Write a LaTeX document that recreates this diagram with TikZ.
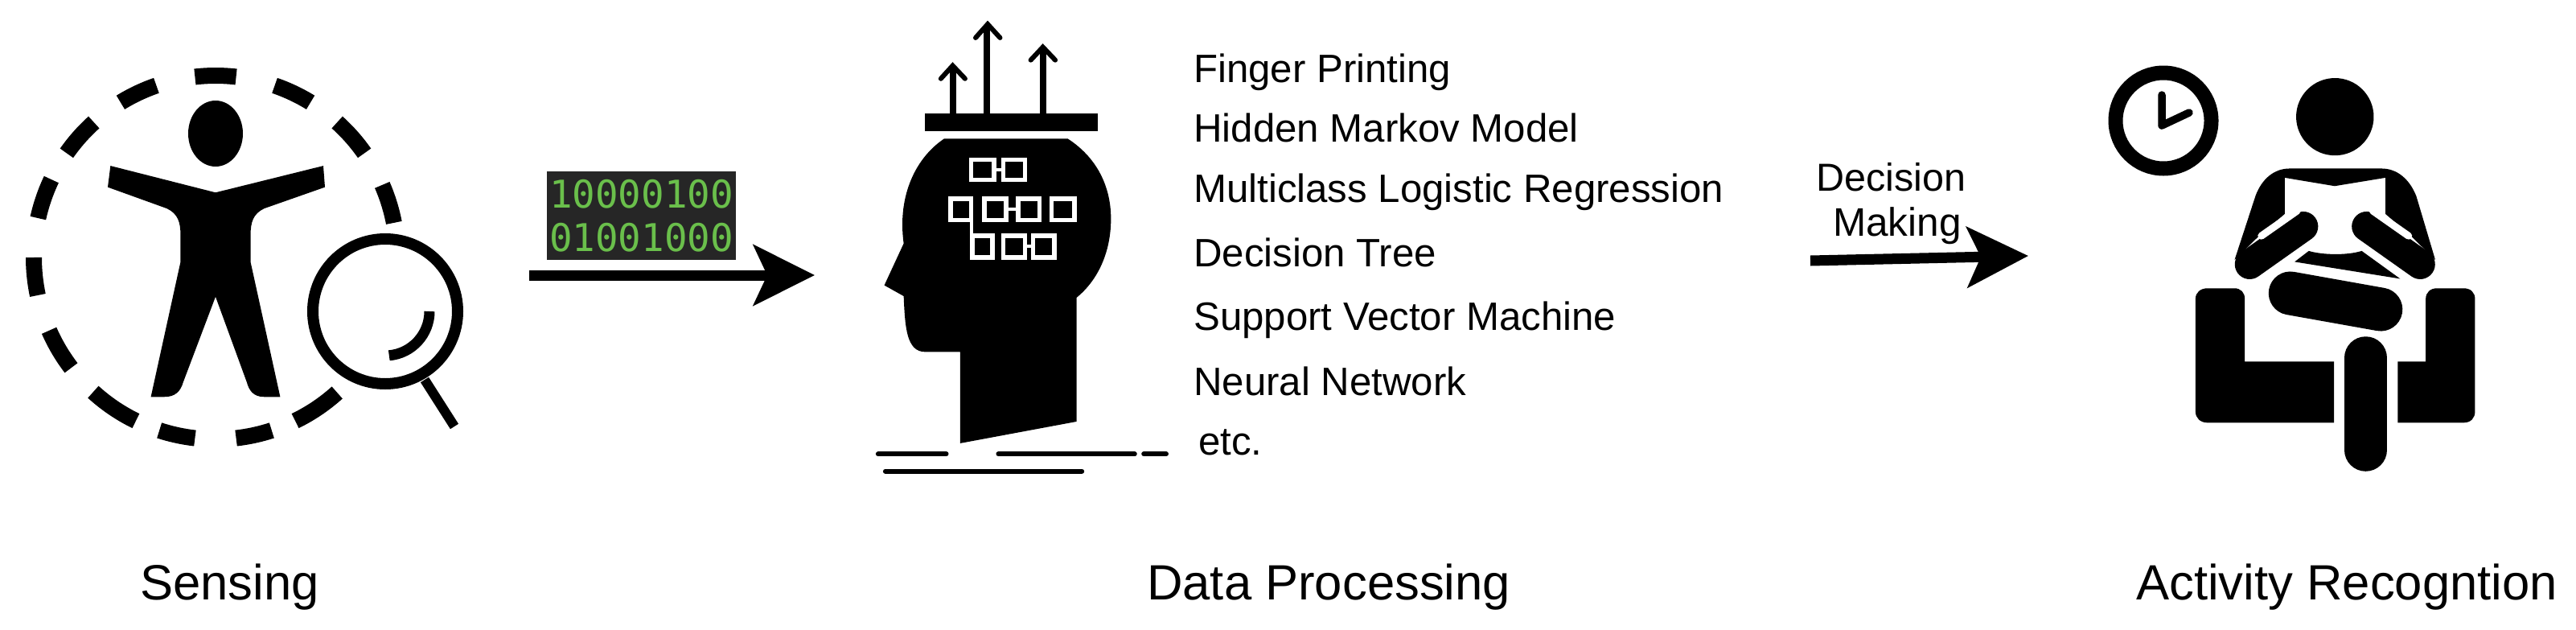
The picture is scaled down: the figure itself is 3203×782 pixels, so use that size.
\documentclass[tikz,border=0pt]{standalone}
\usepackage{fontspec}
\setmainfont{Liberation Sans}
\newfontfamily\binfont{DejaVu Sans Mono}
\usetikzlibrary{arrows.meta}
\definecolor{binbg}{HTML}{262626}
\definecolor{bingreen}{HTML}{6ABF4B}
\tikzset{
  item/.style={anchor=base west,inner sep=0pt,font=\fontsize{49.2}{58}\selectfont},
  caption/.style={anchor=base west,inner sep=0pt,font=\fontsize{61.6}{72}\selectfont},
  flow/.style={line width=13pt,-{Stealth[length=76pt,width=75pt,inset=17pt]}},
  ring/.style={line width=20pt},
  treebox/.style={draw=white,line width=5.5pt},
  treelink/.style={draw=white,line width=4pt},
  riser/.style={line width=8pt},
  chevron/.style={line width=6pt,line cap=round,line join=miter},
  floorline/.style={line width=6pt,line cap=round},
  limb/.style={line cap=round}
}
\begin{document}
\begin{tikzpicture}[x=1pt,y=-1pt]
\useasboundingbox (0,0) rectangle (3203,782);
\fill[white] (0,0) rectangle (3203,782);

% ---- Sensing icon ----
\begin{scope}[shift={(268pt,-320pt)},x=1pt,y=1pt]
  \foreach \a/\b in {83.5/96.5,58.5/71,109/121.5,35/48,132/145,11/23.5,154.6/167.5,180/192,203.7/217.4,227.7/244,252/263.5,276.5/288,296/312}
    \draw[ring] (\a:226) arc[start angle=\a,end angle=\b,radius=226];
\end{scope}
\begin{scope}[shift={(0pt,-60pt)},x=0.67pt,y=-0.332pt]
  \fill (205,440) -- (400,540) -- (600,440) -- (603,520) -- (490,600)
    .. controls (470,620) and (465,650) .. (465,700) -- (465,800)
    -- (520,1305) -- (490,1305) .. controls (470,1305) and (462,1280) .. (458,1250)
    -- (400,930) -- (340,1250) .. controls (335,1285) and (325,1305) .. (305,1305)
    -- (280,1305) -- (335,800) -- (335,700)
    .. controls (335,650) and (330,620) .. (310,600) -- (200,520) -- cycle;
\end{scope}
\fill (268,166) ellipse[x radius=34,y radius=41];
\draw[line width=14pt] (479,387) circle[radius=90];
\begin{scope}[shift={(479pt,-387pt)},x=1pt,y=1pt]
  \draw[line width=13pt] (0:55) arc[start angle=0,end angle=-85,radius=55];
\end{scope}
\draw[line width=12pt] (528,472) -- (565,530);

% ---- binary box and first arrow ----
\node (bin) at (797.5,268) [fill=binbg,text=bingreen,minimum width=235pt,minimum height=110pt,inner sep=0pt,align=center,font=\binfont\fontsize{47.5}{54}\selectfont] {10000100\\01001000};
\coordinate (a1s) at (658,342);
\coordinate (a1e) at (1013,342);
\draw[flow] (a1s) -- (a1e);

% ---- Head icon ----
\begin{scope}[shift={(1050pt,-10pt)},x=0.3347pt,y=-0.385pt]
  \fill (370,422) -- (830,422) .. controls (950,490) and (990,590) .. (990,680)
    .. controls (990,790) and (940,880) .. (862,935) -- (862,1335) -- (430,1405)
    -- (430,1110) -- (300,1110) .. controls (230,1110) and (225,1030) .. (220,930)
    -- (148,895) -- (220,760) .. controls (195,600) and (270,480) .. (370,422) -- cycle;
  \fill (298,340) rectangle (940,398);
  \draw[riser] (402,345) -- (402,190);
  \draw[riser] (530,345) -- (530,55);
  \draw[riser] (737,345) -- (737,130);
  \draw[chevron] (358,228) -- (402,186) -- (448,228);
  \draw[chevron] (487,96) -- (532,52) -- (578,96);
  \draw[chevron] (692,168) -- (737,126) -- (783,168);
  \draw[treebox] (470,490) rectangle (555,555);
  \draw[treebox] (590,490) rectangle (670,555);
  \draw[treelink] (555,523) -- (590,523);
  \draw[treebox] (395,615) rectangle (470,685);
  \draw[treebox] (520,615) rectangle (600,685);
  \draw[treebox] (645,615) rectangle (725,685);
  \draw[treebox] (770,615) rectangle (855,685);
  \draw[treelink] (600,650) -- (645,650);
  \draw[treebox] (475,735) rectangle (550,805);
  \draw[treebox] (590,735) rectangle (670,805);
  \draw[treebox] (700,735) rectangle (780,805);
  \draw[treelink] (670,770) -- (700,770);
  \draw[treelink] (472,685) -- (472,735);
  \draw[floorline] (125,1440) -- (378,1440);
  \draw[floorline] (572,1440) -- (1078,1440);
  \draw[floorline] (1112,1440) -- (1195,1440);
  \draw[floorline] (152,1495) -- (882,1495);
\end{scope}

% ---- list ----
\node[item] (t1) at (1484,102.5) {Finger Printing};
\node[item] (t2) at (1484,176) {Hidden Markov Model};
\node[item] (t3) at (1484,251) {Multiclass Logistic Regression};
\node[item] (t4) at (1484,331) {Decision Tree};
\node[item] (t5) at (1484,410) {Support Vector Machine};
\node[item] (t6) at (1484,491.5) {Neural Network};
\node[item] (t7) at (1490,565) {etc.};

% ---- second arrow ----
\node[item,font=\fontsize{48.5}{58}\selectfont] (d1) at (2258,237) {Decision};
\node[item,font=\fontsize{49.5}{58}\selectfont] (d2) at (2279,293) {Making};
\coordinate (a2s) at (2251,324);
\coordinate (a2e) at (2522,318);
\draw[flow] (a2s) -- (a2e);

% ---- Activity icon ----
\begin{scope}[shift={(2550pt,-60pt)},x=0.3827pt,y=-0.346pt]
  \fill (923,246) ellipse[x radius=126,y radius=139];
  % torso
  \fill (597,760) -- (665,530) .. controls (685,470) and (725,432) .. (775,432)
    -- (1075,432) .. controls (1125,432) and (1165,470) .. (1187,530)
    -- (1249,760) -- (1166,670) -- (1087,595) -- (1087,465) -- (922,495) -- (760,465)
    -- (760,595) -- (680,670) -- cycle;
  \draw[limb,line width=37pt] (820,640) -- (646,776);
  \draw[limb,line width=37pt] (1026,640) -- (1200,776);
  \draw[white,line width=9pt,line cap=round] (684,674) -- (800,584);
  \draw[white,line width=9pt,line cap=round] (1162,674) -- (1046,584);
  \fill (838,728) .. controls (880,742) and (960,745) .. (1010,728) -- (1135,828) -- (792,767) -- cycle;
  \draw[limb,line width=54pt] (778,880) -- (1072,938);
  % chair
  \fill (510,862) -- (595,862) .. controls (618,862) and (630,878) .. (630,900)
    -- (630,1125) -- (920,1125) -- (920,1345) -- (510,1345)
    .. controls (485,1345) and (470,1328) .. (470,1305) -- (470,900)
    .. controls (470,878) and (485,862) .. (510,862) -- cycle;
  \fill (1255,862) -- (1340,862) .. controls (1365,862) and (1378,878) .. (1378,900)
    -- (1378,1305) .. controls (1378,1328) and (1365,1345) .. (1340,1345)
    -- (1127,1345) -- (1127,1125) -- (1218,1125) -- (1218,900)
    .. controls (1218,878) and (1232,862) .. (1255,862) -- cycle;
  \draw[limb,line width=53pt] (1023,1112) -- (1023,1443);
\end{scope}
\draw[line width=18pt] (2690,150) circle[radius=59.5];
\draw[line width=9.5pt,line cap=round,line join=round] (2688,118) -- (2688,156) -- (2722,140);

% ---- captions ----
\node[caption] (c1) at (174,745) {Sensing};
\node[caption] (c2) at (1426,745) {Data Processing};
\node[caption] (c3) at (2656,745) {Activity Recogntion};
\end{tikzpicture}
\end{document}
